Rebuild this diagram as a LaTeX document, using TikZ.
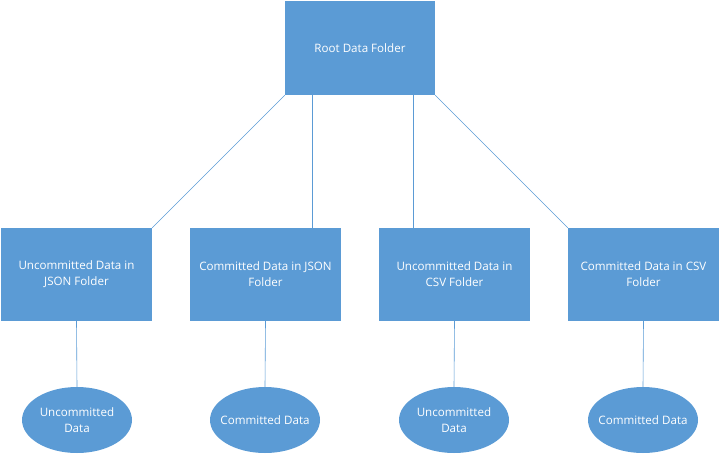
\documentclass[tikz,border=0pt]{standalone}
\usepackage{fontspec}
\setmainfont{Open Sans}
\usetikzlibrary{shapes.geometric}
\definecolor{boxblue}{HTML}{5B9BD5}

\begin{document}
\begin{tikzpicture}[x=1pt,y=-1pt,
  folder/.style={fill=boxblue,draw=none,minimum width=151pt,minimum height=93pt,
    inner sep=0pt,text=white,font=\fontsize{11.6}{16}\selectfont,align=center},
  datum/.style={ellipse,fill=boxblue,draw=none,minimum width=110pt,minimum height=66pt,
    inner xsep=-8pt,inner ysep=0pt,text=white,font=\fontsize{11.6}{16}\selectfont,align=center},
  link/.style={draw=boxblue,line width=0.6pt}]
\useasboundingbox (0,0) rectangle (720,455);
\node[folder,minimum width=150pt,minimum height=94pt] (root) at (360,48) {Root Data Folder};
\node[folder] (ujson) at (76.5,274.5) {Uncommitted Data in\\JSON Folder};
\node[folder] (cjson) at (265.5,274.5) {Committed Data in JSON\\Folder};
\node[folder] (ucsv) at (454.5,274.5) {Uncommitted Data in\\CSV Folder};
\node[folder] (ccsv) at (643.5,274.5) {Committed Data in CSV\\Folder};
\node[datum] (udata1) at (77,420) {Uncommitted\\Data};
\node[datum] (cdata1) at (265,420) {Committed Data};
\node[datum] (udata2) at (454,420) {Uncommitted\\Data};
\node[datum] (cdata2) at (643,420) {Committed Data};
% root to folders
\draw[link] (root.south west) -- (ujson.north east);
\draw[link] ([xshift=27.5pt]root.south west) -- ([xshift=27.5pt]root.south west |- cjson.north);
\draw[link] ([xshift=-21.7pt]root.south east) -- ([xshift=-21.7pt]root.south east |- ucsv.north);
\draw[link] (root.south east) -- (ccsv.north west);
% folders to data
\draw[link] (ujson.south) -- (udata1.north);
\draw[link] (cjson.south) -- (cdata1.north);
\draw[link] (ucsv.south) -- (udata2.north);
\draw[link] (ccsv.south) -- (cdata2.north);
\end{tikzpicture}
\end{document}
